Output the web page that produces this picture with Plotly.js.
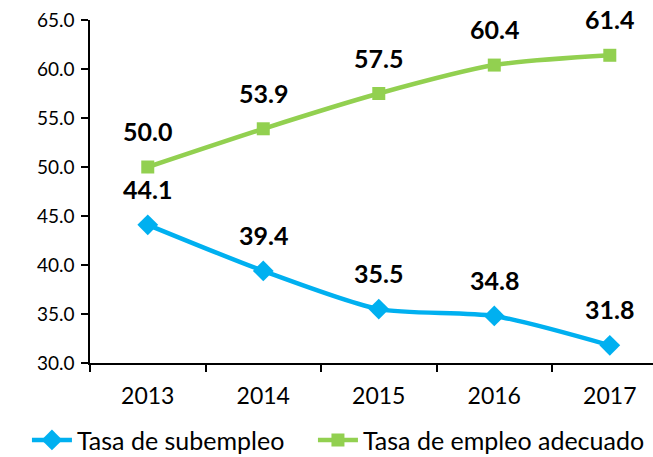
<!DOCTYPE html>
<html>
<head>
<meta charset="utf-8">
<script src="https://cdn.plot.ly/plotly-3.0.1.min.js"></script>
<style>html,body{margin:0;padding:0;background:#fff;}#chart{width:653px;height:457px;}</style>
</head>
<body>
<div id="chart"></div>
<script>
const years = ['2013', '2014', '2015', '2016', '2017'];
const subempleo = [44.1, 39.4, 35.5, 34.8, 31.8];
const adecuado = [50.0, 53.9, 57.5, 60.4, 61.4];
const seriesNames = ['Tasa de subempleo', 'Tasa de empleo adecuado'];

const blue = '#00B0F0';
const green = '#92D050';
const fontFam = 'Lato, "Open Sans", sans-serif';

const traces = [
  {
    x: years, y: subempleo, name: seriesNames[0], type: 'scatter', mode: 'lines+markers',
    line: {color: blue, width: 4.5, shape: 'spline', smoothing: 0.7},
    marker: {symbol: 'diamond', size: 16, color: blue},
    legend: 'legend'
  },
  {
    x: years, y: adecuado, name: seriesNames[1], type: 'scatter', mode: 'lines+markers',
    line: {color: green, width: 4.5, shape: 'spline', smoothing: 0.7},
    marker: {symbol: 'square', size: 13, color: green},
    legend: 'legend2'
  }
];

const annotations = [];
[subempleo, adecuado].forEach(arr => {
  arr.forEach((v, i) => {
    annotations.push({
      x: i, y: v, xref: 'x', yref: 'y', text: '<b>' + v.toFixed(1) + '</b>',
      showarrow: false, xanchor: 'center', yanchor: 'middle', yshift: 36,
      font: {family: fontFam, size: 25, color: '#000'}
    });
  });
});

const legendBase = {
  orientation: 'h', xanchor: 'left', y: -0.225, yanchor: 'middle',
  font: {family: fontFam, size: 25, color: '#000'}, itemwidth: 40
};

const layout = {
  width: 653, height: 457,
  margin: {l: 90, r: 0, t: 20, b: 94, autoexpand: false},
  paper_bgcolor: '#fff', plot_bgcolor: '#fff',
  showlegend: true,
  legend: Object.assign({}, legendBase, {x: -0.112}),
  legend2: Object.assign({}, legendBase, {x: 0.396}),
  xaxis: {
    type: 'category', range: [-0.5, 4.374], tickson: 'boundaries',
    ticks: 'outside', ticklen: 7, tickwidth: 1.5, tickcolor: '#000',
    showline: true, linecolor: '#000', linewidth: 1.5, showgrid: false, zeroline: false,
    ticklabelstandoff: 12,
    tickfont: {family: fontFam, size: 23, color: '#000'}
  },
  yaxis: {
    range: [30, 65], dtick: 5, tick0: 30, tickformat: '.1f',
    ticks: 'outside', ticklen: 7, tickwidth: 1.5, tickcolor: '#000',
    showline: true, linecolor: '#000', linewidth: 1.5, showgrid: false, zeroline: false,
    ticklabelstandoff: 3,
    tickfont: {family: fontFam, size: 19, color: '#000'}
  },
  annotations: annotations
};

Plotly.newPlot('chart', traces, layout, {displayModeBar: false});
</script>
</body>
</html>
